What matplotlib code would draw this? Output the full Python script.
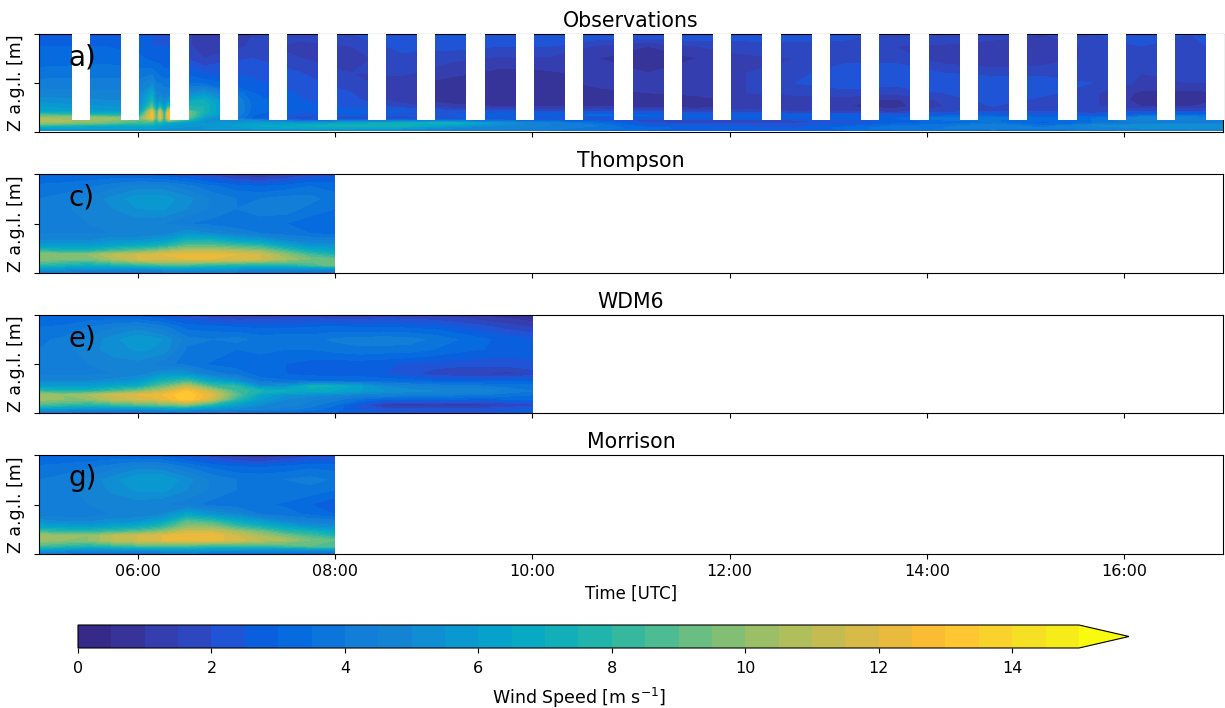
import numpy as np
import matplotlib
matplotlib.use("Agg")
import matplotlib.pyplot as plt
from matplotlib.colors import LinearSegmentedColormap, BoundaryNorm
from matplotlib.cm import ScalarMappable

titles = ["Observations", "Thompson", "WDM6", "Morrison"]
panel_labels = ["a)", "c)", "e)", "g)"]
tick_hours = [6, 8, 10, 12, 14, 16]
tick_labels = ["06:00", "08:00", "10:00", "12:00", "14:00", "16:00"]
wind_levels = list(np.arange(0, 15.5, 0.5))
cbar_ticks = [0, 2, 4, 6, 8, 10, 12, 14]

parula = [(0.208,0.166,0.529),(0.212,0.214,0.627),(0.196,0.265,0.728),(0.125,0.324,0.830),
          (0.012,0.388,0.882),(0.033,0.443,0.872),(0.072,0.489,0.847),(0.079,0.520,0.831),
          (0.049,0.577,0.823),(0.024,0.629,0.804),(0.027,0.664,0.761),(0.084,0.693,0.706),
          (0.180,0.718,0.642),(0.302,0.738,0.570),(0.442,0.748,0.494),(0.571,0.749,0.424),
          (0.683,0.744,0.364),(0.786,0.736,0.312),(0.882,0.727,0.262),(0.974,0.731,0.201),
          (0.996,0.786,0.197),(0.969,0.850,0.160),(0.960,0.910,0.110),(0.976,0.983,0.054)]

# Observation blanks (hours)
gap_starts = [5.33 + 0.5 * i for i in range(25)]
gap_width = 0.187
gap_floor = 245

z_model = [0, 80, 160, 280, 370, 450, 550, 650, 800, 1000, 1300, 1500, 1750, 2000]
t_short = [5, 5.25, 5.5, 5.75, 6, 6.25, 6.5, 6.75, 7, 7.25, 7.5, 7.75, 8]
t_wdm = [5 + 0.25 * i for i in range(21)]

thompson = [
 [4.0,3.8,3.5,3.5,3.5,3.5,3.5,3.5,3.5,3.2,3.0,3.0,3.0],
 [6.0,5.5,5.0,5.0,5.0,5.5,5.5,5.5,5.5,5.0,5.0,5.0,5.0],
 [8.0,7.5,7.0,7.5,8.0,8.5,8.5,8.0,7.5,7.5,7.5,8.5,9.5],
 [10.0,9.5,9.5,10.5,11.5,12.0,12.0,12.0,12.0,11.5,10.5,9.5,9.0],
 [10.0,10.0,10.0,11.0,11.5,12.0,12.2,12.2,12.0,11.5,10.0,8.5,7.5],
 [8.0,7.5,7.5,8.5,9.0,10.0,11.0,11.0,10.5,10.0,8.5,7.0,6.5],
 [6.0,6.0,6.0,6.5,7.0,7.5,9.0,9.0,8.5,8.0,6.5,5.5,5.5],
 [5.0,5.0,5.0,5.5,5.5,6.0,7.5,7.5,6.5,6.0,5.0,4.5,4.5],
 [4.5,4.5,4.5,4.5,4.5,4.7,5.5,5.0,4.5,4.0,3.7,3.5,3.3],
 [4.3,4.5,4.5,4.7,4.7,4.5,4.0,3.8,3.5,3.7,3.5,3.2,3.0],
 [4.2,4.4,4.7,5.0,5.5,5.6,5.0,4.4,4.0,4.3,4.3,3.8,3.5],
 [4.0,4.2,4.6,5.2,5.8,5.8,5.2,4.4,4.0,4.0,4.2,4.2,3.7],
 [3.6,3.7,3.9,4.3,4.7,4.7,4.2,3.6,3.2,3.0,3.2,3.5,3.3],
 [3.0,3.0,3.0,3.0,2.8,2.6,2.2,1.8,1.1,0.9,1.3,2.0,2.3],
]
morrison = [
 [3.8,3.6,3.4,3.4,3.5,3.5,3.5,3.4,3.2,3.0,3.0,3.0,3.0],
 [6.0,5.5,5.0,5.2,5.3,5.5,5.7,5.5,5.5,5.0,5.0,5.0,5.0],
 [8.5,8.0,7.5,8.0,8.5,8.7,8.5,8.0,8.0,8.0,8.5,9.0,9.0],
 [10.5,10.0,10.0,11.0,11.5,12.0,12.2,12.2,11.8,11.0,10.5,9.5,9.0],
 [10.5,10.2,10.0,11.0,11.5,12.0,12.5,12.5,11.5,10.5,9.5,8.5,7.5],
 [8.5,8.0,8.0,8.5,9.0,10.0,11.5,11.5,10.5,9.5,8.0,7.5,6.5],
 [6.5,6.2,6.0,6.5,7.0,8.0,10.0,10.0,8.5,7.5,6.5,5.5,5.3],
 [5.3,5.0,5.0,5.3,5.5,6.5,9.0,8.5,7.0,6.0,5.0,4.5,4.3],
 [4.3,4.2,4.2,4.5,4.6,5.0,6.5,5.5,5.0,4.0,3.7,3.4,3.0],
 [4.0,4.2,4.5,4.7,4.7,4.5,4.2,3.8,3.6,3.6,3.4,3.0,2.6],
 [4.0,4.3,4.7,5.1,5.6,5.7,5.0,4.4,4.0,4.0,4.0,3.8,3.5],
 [4.0,4.2,4.6,5.3,6.0,6.0,5.2,4.4,4.0,3.9,4.0,4.2,3.9],
 [3.6,3.7,3.9,4.3,4.8,4.7,4.0,3.4,3.1,3.0,3.2,3.4,3.3],
 [3.0,3.0,3.0,3.0,2.9,2.7,2.2,1.7,1.1,0.9,1.3,1.8,1.8],
]
wdm6 = [
 [3.8,3.6,3.4,3.4,3.4,3.4,3.4,3.3,3.2,3.2,3.2,3.0,3.0,2.8,2.6,2.5,2.5,2.5,2.5,2.6,2.6],
 [5.8,5.5,5.2,5.2,5.2,5.5,5.6,5.2,4.8,4.5,4.2,3.8,3.2,2.5,2.2,2.2,2.2,2.2,2.2,2.4,2.5],
 [8.5,8.0,7.5,8.0,8.5,9.0,9.5,7.5,6.0,5.0,4.8,4.2,3.5,2.2,1.2,1.0,1.2,1.0,1.2,1.5,1.8],
 [10.3,10.0,10.0,11.0,11.5,12.0,13.5,11.5,8.0,6.0,5.0,4.6,4.2,3.5,3.0,3.0,3.0,3.0,2.8,3.0,3.0],
 [10.2,10.0,10.5,11.5,12.0,12.5,13.5,12.0,9.0,6.5,5.5,5.2,5.0,4.5,4.5,4.2,4.2,4.0,4.0,3.7,3.5],
 [8.0,7.5,7.5,8.5,9.5,11.0,13.0,11.0,8.5,7.5,7.0,6.8,6.5,6.0,5.5,5.2,5.0,5.0,4.8,4.3,4.0],
 [6.0,6.0,6.0,6.5,7.0,9.0,11.0,8.5,8.0,5.2,5.5,7.2,7.0,6.2,5.0,4.6,4.3,4.2,4.0,3.8,3.7],
 [5.0,5.0,5.0,5.2,5.7,7.5,8.5,6.5,5.5,3.8,3.6,3.5,3.4,3.5,3.3,3.2,3.0,3.0,2.8,3.0,3.0],
 [4.3,4.3,4.4,4.5,4.7,5.5,5.5,4.2,3.8,3.2,3.0,2.8,2.8,2.7,2.5,2.2,1.7,1.5,1.5,1.3,1.7],
 [4.0,4.2,4.5,4.8,4.8,4.2,3.8,3.4,3.2,3.1,3.0,2.8,2.7,2.7,2.6,2.4,2.3,2.2,2.2,2.2,2.4],
 [4.0,4.3,4.8,5.2,5.6,5.4,3.9,3.9,3.5,3.7,3.5,3.5,3.7,3.9,3.8,3.8,3.5,3.2,3.0,2.8,2.7],
 [3.9,4.1,4.6,5.3,6.0,5.5,4.2,4.0,4.2,3.8,3.9,3.8,4.1,4.2,4.3,4.2,3.9,3.5,3.1,2.8,2.6],
 [3.5,3.6,4.0,4.4,4.7,4.2,3.3,3.2,3.0,2.9,2.9,3.0,3.1,3.0,3.0,2.9,2.8,2.5,2.2,1.8,1.5],
 [3.0,3.0,3.0,3.0,2.8,2.4,2.0,1.5,1.3,1.4,1.6,1.6,1.4,1.4,1.6,1.5,1.4,1.2,0.9,0.7,0.4],
]

z_obs = [40, 80, 130, 180, 230, 280, 340, 420, 520, 650, 800, 1000, 1200, 1500, 1750, 2000]
t_obs = [5.0, 5.67, 6.02, 6.146, 6.19, 6.227, 6.27, 6.31, 6.67, 7.17, 7.67, 8.17, 8.67, 9.17, 9.67,
         10.17, 10.67, 11.17, 11.67, 12.17, 12.67, 13.17, 13.67, 14.17, 14.67, 15.17, 15.67, 16.17, 16.67, 17.0]
obs_columns = [
 [5.0,6.0,8.0,10.0,11.0,10.5,9.0,6.5,6.0,5.2,4.7,4.2,3.7,3.2,3.0,2.6],
 [5.0,6.0,7.0,9.0,10.0,10.5,8.0,6.0,5.5,5.0,4.6,4.2,3.8,3.3,3.0,2.8],
 [5.0,6.0,7.0,8.0,9.0,9.5,7.5,6.0,5.3,5.0,4.6,4.2,3.7,3.1,2.8,2.6],
 [5.0,6.0,7.0,8.0,9.5,12.5,13.0,12.0,9.0,7.5,6.5,5.0,3.8,2.8,2.5,2.5],
 [5.0,6.0,6.5,7.0,7.5,8.0,8.0,7.5,6.0,5.0,4.5,4.0,3.5,2.8,2.5,2.5],
 [5.0,5.5,6.5,7.5,9.5,12.0,12.5,11.5,7.5,5.5,4.5,4.0,3.3,2.8,2.5,2.5],
 [5.0,5.5,6.0,6.5,7.5,7.5,7.5,6.5,5.5,4.8,4.2,3.8,3.2,2.6,2.5,2.4],
 [5.0,5.5,6.0,6.5,9.5,12.5,13.0,12.0,8.0,5.5,4.2,3.8,3.2,2.6,2.5,2.4],
 [5.0,5.5,5.5,5.5,5.5,6.0,7.0,7.5,7.5,7.0,5.5,3.3,2.5,1.5,1.0,1.0],
 [5.0,6.0,6.5,6.0,5.0,2.8,3.0,3.2,3.3,3.2,3.0,2.6,2.4,2.0,1.6,1.5],
 [5.0,6.5,7.0,5.5,3.5,1.5,2.2,2.6,2.6,2.5,2.4,2.2,2.0,1.5,1.3,1.8],
 [5.0,6.5,7.5,6.5,4.0,1.3,2.5,2.6,2.4,2.2,2.0,1.7,1.5,1.3,1.5,2.0],
 [5.0,6.0,7.5,7.0,4.0,1.2,2.3,2.6,1.8,1.2,1.2,1.2,1.6,1.8,2.2,2.5],
 [4.5,5.0,6.0,7.5,4.0,1.8,2.5,2.2,1.2,0.7,0.7,0.7,1.2,1.6,2.2,2.6],
 [4.3,4.8,5.0,5.5,3.5,2.0,3.0,2.2,1.0,0.6,0.5,0.6,0.8,1.4,2.0,2.5],
 [4.0,4.2,4.5,4.5,3.0,1.6,2.8,2.0,0.9,0.6,0.5,0.7,0.9,1.4,2.0,2.6],
 [3.5,3.8,4.0,3.5,2.5,1.8,3.2,2.0,1.0,0.6,0.8,1.2,1.2,1.0,1.4,2.5],
 [3.0,3.2,2.5,2.2,1.5,2.5,3.0,2.0,0.8,0.7,1.0,1.2,1.0,0.7,1.0,2.5],
 [2.8,2.8,2.5,1.8,1.2,2.6,2.8,1.6,0.7,0.7,1.2,1.4,1.2,1.0,1.5,2.6],
 [2.8,2.6,2.4,2.0,1.4,2.8,2.8,1.8,1.2,1.2,1.5,1.5,1.5,1.4,1.7,2.4],
 [2.6,2.5,2.4,2.0,1.8,2.5,2.6,1.5,1.0,1.3,1.6,2.0,1.8,1.5,1.8,2.3],
 [3.0,3.2,2.8,2.2,2.2,2.8,2.6,1.5,1.0,1.2,1.8,2.3,2.4,1.8,1.8,2.2],
 [3.2,3.8,3.5,2.8,2.5,3.0,2.4,1.3,0.8,0.9,1.6,2.2,2.4,1.8,1.5,1.8],
 [3.2,4.0,3.8,3.2,3.4,3.8,2.8,1.8,1.5,1.6,2.0,2.2,2.0,1.2,1.4,2.0],
 [3.5,4.5,4.5,3.8,3.5,3.8,2.8,2.0,2.0,2.3,2.4,2.4,1.8,1.0,1.4,1.6],
 [3.2,4.0,3.5,2.8,3.0,3.2,2.6,2.0,1.6,1.8,2.2,2.4,1.8,1.2,1.2,1.5],
 [3.8,4.5,5.0,3.5,3.5,3.5,2.5,1.6,1.6,1.6,1.6,2.0,2.0,1.6,1.6,2.0],
 [4.2,5.0,5.5,4.0,4.5,4.8,3.2,2.0,1.0,0.8,0.9,1.4,1.5,1.8,2.0,2.2],
 [4.5,5.5,5.5,4.5,4.5,4.5,3.5,2.0,1.0,0.7,0.8,1.5,1.8,1.5,1.8,2.0],
 [4.5,5.0,5.5,4.5,4.5,4.2,3.2,2.2,1.2,1.0,1.0,1.5,1.8,2.0,2.2,2.4],
]

cmap = LinearSegmentedColormap.from_list("parula", parula, N=256)
cmap = cmap.with_extremes(over=parula[-1])
norm = BoundaryNorm(wind_levels, cmap.N, extend="max")
fs = 11.5

fig = plt.figure(figsize=(12.25, 7.08), dpi=100)
W, H = 1225.0, 708.0
tops = [34, 174, 315, 455]
bottoms = [132, 273, 413, 554]
x0, x1 = 39, 1223
axes = [fig.add_axes([x0 / W, 1 - b / H, (x1 - x0) / W, (b - t) / H]) for t, b in zip(tops, bottoms)]

panels = [(t_obs, z_obs, np.array(obs_columns).T), (t_short, z_model, np.array(thompson)),
          (t_wdm, z_model, np.array(wdm6)), (t_short, z_model, np.array(morrison))]

for i, ax in enumerate(axes):
    t, z, v = panels[i]
    ax.contourf(t, z, v, levels=wind_levels, cmap=cmap, norm=norm, extend="max")
    if i == 0:
        for g in gap_starts:
            ax.fill_between([g, g + gap_width], gap_floor, 2000, color="white", lw=0, zorder=3)
    ax.set_xlim(5, 17)
    ax.set_ylim(0, 2000)
    ax.set_yticks([0, 1000, 2000])
    ax.set_yticklabels([])
    ax.set_xticks(tick_hours)
    ax.set_xticklabels(tick_labels if i == 3 else [], fontsize=fs)
    ax.tick_params(axis="both", labelsize=fs)
    ax.set_ylabel("Z a.g.l. [m]", fontsize=12.5, labelpad=3)
    ax.set_title(titles[i], fontsize=14.8, pad=5)
    ax.text(0.025, 0.765, panel_labels[i], transform=ax.transAxes, fontsize=20, va="center", ha="left", zorder=5)
axes[3].set_xlabel("Time [UTC]", fontsize=12, labelpad=4)

cax = fig.add_axes([78 / W, 1 - 648 / H, (1129 - 78) / W, 23 / H])
cb = fig.colorbar(ScalarMappable(norm=norm, cmap=cmap), cax=cax, orientation="horizontal",
                  extend="max", extendfrac=0.05, ticks=cbar_ticks, spacing="proportional")
cb.minorticks_off()
cb.ax.tick_params(labelsize=fs, pad=6)
cb.set_label("Wind Speed [m s$^{-1}$]", fontsize=12.5, labelpad=7)

fig.savefig("out.png", dpi=100)
